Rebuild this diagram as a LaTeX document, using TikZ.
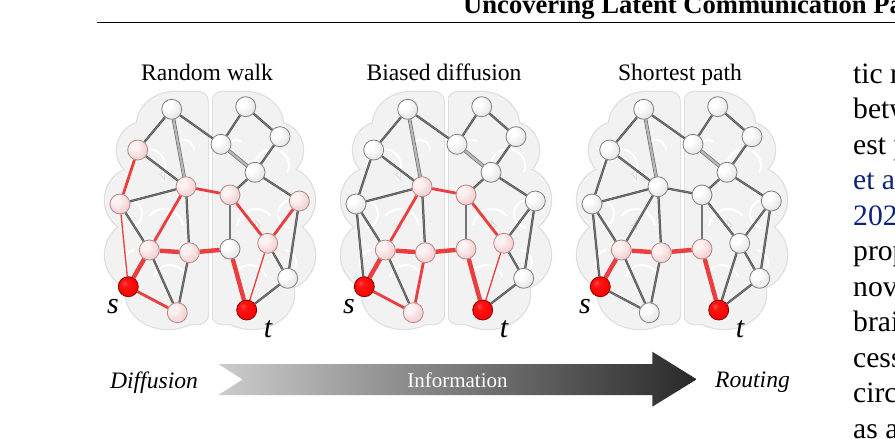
\documentclass[tikz,border=0pt]{standalone}
\usepackage{fontspec}
\setmainfont{Liberation Serif}
\usetikzlibrary{calc}
\definecolor{brainfill}{RGB}{242,242,242}
\definecolor{brainedge}{RGB}{222,222,222}
\definecolor{redE}{RGB}{236,62,62}
\definecolor{citeblue}{RGB}{12,35,120}
\definecolor{pinkhi}{RGB}{253,242,242}
\definecolor{pinkmid}{RGB}{242,206,206}
\definecolor{pinklo}{RGB}{212,160,160}
\pgfdeclareradialshading{wball}{\pgfpoint{-12bp}{12bp}}{color(0bp)=(white); color(10bp)=(white); color(32bp)=(black!10); color(48bp)=(black!35); color(70bp)=(black!48)}
\pgfdeclareradialshading{pball}{\pgfpoint{-12bp}{12bp}}{color(0bp)=(pinkhi); color(10bp)=(pinkhi); color(32bp)=(pinkmid); color(48bp)=(pinklo); color(70bp)=(pinklo)}
\pgfdeclareradialshading{rball}{\pgfpoint{-10bp}{10bp}}{color(0bp)=(red!70!white); color(8bp)=(red!92!white); color(28bp)=(red); color(50bp)=(red!85!black); color(70bp)=(red!80!black)}
\pgfdeclarelayer{bg}
\pgfdeclarelayer{edges}
\pgfsetlayers{bg,edges,main}
\tikzset{
  nd/.style={circle, minimum size=20pt, inner sep=0pt, line width=0.8pt},
  wn/.style={nd, shading=wball, draw=black!50},
  pn/.style={nd, shading=pball, draw=pinklo!85!black},
  rn/.style={nd, shading=rball, draw=red!50!black},
  ge/.style={draw=black!72, line width=0.5pt, double=black!55, double distance=1.2pt},
  gt/.style={draw=black!62, line width=0.6pt, double=black!28, double distance=2.3pt},
  rt/.style={draw=redE, line width=1.3pt},
  rm/.style={draw=redE, line width=2.8pt},
  rk/.style={draw=redE, line width=4.4pt},
  sulc/.style={draw=white, line width=2pt, line cap=round},
  txt/.style={inner sep=0pt, anchor=base},
  ttl/.style={txt, font=\fontsize{23.6}{28}\selectfont},
  lbl/.style={txt, font=\itshape\fontsize{30}{30}\selectfont},
  col/.style={inner sep=0pt, anchor=base west, font=\fontsize{29.6}{35.5}\selectfont},
}
\newcommand\hemipieces[1]{%
  \path[#1, rounded corners=10pt] (2,92) rectangle (45,324);
  \path[#1] (35,125) ellipse[x radius=38, y radius=33];
  \path[#1] (65,150) circle[radius=28];
  \path[#1] (72,200) circle[radius=33];
  \path[#1] (70,255) circle[radius=35];
  \path[#1] (42,294) ellipse[x radius=42, y radius=35];
}
\newcommand\hemi{%
  \begin{scope}
    \clip (2,80) rectangle (130,345);
    \hemipieces{draw=brainedge, line width=2.4pt}
    \hemipieces{fill=brainfill}
  \end{scope}
  \draw[brainedge, line width=0.9pt] (2,100) -- (2,318);
  \draw[sulc] (62,166) ++(160:17) arc[start angle=160, end angle=380, radius=17];
  \draw[sulc] (26,150) ++(180:10) arc[start angle=180, end angle=300, radius=10];
  \draw[sulc] (46,228) ++(190:19) arc[start angle=190, end angle=320, radius=19];
  \draw[sulc] (82,214) ++(100:14) arc[start angle=100, end angle=250, radius=14];
  \draw[sulc] (40,282) ++(200:17) arc[start angle=200, end angle=340, radius=17];
  \draw[sulc] (74,262) ++(40:12) arc[start angle=40, end angle=-80, radius=12];
}
\tikzset{brainbg/.pic={
  \begin{scope}\hemi\end{scope}
  \begin{scope}[xscale=-1]\hemi\end{scope}
}}
\newcommand\placenodes[3]{%
  \foreach \n/\x/\y/\s in {#3} \node[\s] (\n#1) at ({#2+\x},\y) {};
}
\newcommand\placeedges[2]{%
  \foreach \a/\b/\s in {#2} \draw[\s] (\a#1) -- (\b#1);
}
\begin{document}
\begin{tikzpicture}[x=1pt,y=-1pt]
\useasboundingbox (0,0) rectangle (895,439);
\clip (0,0) rectangle (895,439);
\begin{pgfonlayer}{bg}
  \fill[white] (0,0) rectangle (895,439);
  \pic at (210,0) {brainbg};
  \pic at (446,0) {brainbg};
  \pic at (682,0) {brainbg};
\end{pgfonlayer}

% header
\node[inner sep=0pt, anchor=base west, font=\bfseries\fontsize{26.6}{30}\selectfont] (hdr) at (463,13) {Uncovering Latent Communication Pa};
\draw[line width=1.6pt] (97,22.5) -- (895,22.5);

% titles
\node[ttl] (t1) at (207,80.5) {Random walk};
\node[ttl] (t2) at (444,80.5) {Biased diffusion};
\node[ttl] (t3) at (680,80.5) {Shortest path};

% brain 1
\placenodes{1}{210}{A/-38.3/109.3/wn, B/35.7/106.7/wn, C/11/144.3/wn, D/70/136.7/wn, E/45/172.3/wn, F/-72.3/150/pn, G/-24/186.7/pn, H/20/195/pn, I/89.3/201/pn, J/-90/204/pn, K/-60.7/250/pn, L/-20.7/252.7/pn, M/20/249/wn, N/57.7/243.3/pn, O/77.7/278.3/wn, S/-81.7/286.7/rn, P/-32.7/312.7/pn, T/36.7/310/rn}
% brain 2
\placenodes{2}{446}{A/-38.3/109.3/wn, B/35.7/106.7/wn, C/11/144.3/wn, D/70/136.7/wn, E/45/172.3/wn, F/-72.3/150/wn, G/-24/186.7/pn, H/20/195/pn, I/89.3/201/wn, J/-90/204/wn, K/-60.7/250/pn, L/-20.7/252.7/pn, M/20/249/pn, N/57.7/243.3/pn, O/77.7/278.3/wn, S/-81.7/286.7/rn, P/-32.7/312.7/pn, T/36.7/310/rn}
% brain 3
\placenodes{3}{682}{A/-38.3/109.3/wn, B/35.7/106.7/wn, C/11/144.3/wn, D/70/136.7/wn, E/45/172.3/wn, F/-72.3/150/wn, G/-24/186.7/wn, H/20/195/wn, I/89.3/201/wn, J/-90/204/wn, K/-60.7/250/pn, L/-20.7/252.7/pn, M/20/249/pn, N/57.7/243.3/wn, O/77.7/278.3/wn, S/-81.7/286.7/rn, P/-32.7/312.7/wn, T/36.7/310/rn}

\begin{pgfonlayer}{edges}
\placeedges{1}{A/C/ge, A/F/ge, A/G/gt, C/B/ge, B/D/ge, C/E/gt, D/E/ge, E/H/ge, E/I/ge, F/G/ge, F/J/rm, J/G/ge, J/K/ge, J/S/rt, G/H/rm, G/K/rm, G/L/ge, K/L/rk, L/M/rk, K/P/ge, L/P/ge, S/K/rk, S/P/rm, H/M/ge, H/N/rm, N/I/rm, I/O/ge, N/O/ge, M/T/rk, N/T/rt, T/O/ge}
\placeedges{2}{A/C/ge, A/F/ge, A/G/gt, C/B/ge, B/D/ge, C/E/gt, D/E/ge, E/H/ge, E/I/ge, F/G/ge, F/J/ge, J/G/ge, J/K/ge, J/S/ge, G/H/rm, G/K/rm, G/L/ge, K/L/rk, L/M/rk, K/P/ge, L/P/rm, S/K/rk, S/P/rm, H/M/ge, H/N/rm, N/I/ge, I/O/ge, N/O/ge, M/T/rk, N/T/rt, T/O/ge}
\placeedges{3}{A/C/ge, A/F/ge, A/G/gt, C/B/ge, B/D/ge, C/E/gt, D/E/ge, E/H/ge, E/I/ge, F/G/ge, F/J/ge, J/G/ge, J/K/ge, J/S/ge, G/H/ge, G/K/ge, G/L/ge, K/L/rk, L/M/rk, K/P/ge, L/P/ge, S/K/rk, S/P/ge, H/M/ge, H/N/ge, N/I/ge, I/O/ge, N/O/ge, M/T/rk, N/T/ge, T/O/ge}
\end{pgfonlayer}

% s / t labels
\foreach \k/\dx in {1/0, 2/236, 3/472}{
  \node[lbl] (s\k) at ({113+\dx},313) {s};
  \node[lbl] (t\k) at ({268+\dx},337) {t};
}

% gradient arrow
\shade[left color=black!20, right color=black!84]
  (218.3,364) -- (652.3,364) -- (652.3,351.7) -- (696.7,379.3) -- (652.3,406.7)
  -- (652.3,395) -- (218.3,395) -- (242.7,379.5) -- cycle;
\node[txt, white, font=\fontsize{21}{24}\selectfont] (info) at (457.5,387.5) {Information};
\node[txt, font=\itshape\fontsize{23.6}{28}\selectfont] (diff) at (154,388) {Diffusion};
\node[txt, font=\itshape\fontsize{23.6}{28}\selectfont] (rout) at (752.5,387) {Routing};

% right column (page text, cut at the edge)
\node[col] (c1) at (853,83) {tic r};
\node[col] (c2) at (853,118.5) {betw};
\node[col] (c3) at (853,154) {est p};
\node[col, citeblue] (c4) at (853,189.5) {et a};
\node[col, citeblue] (c5) at (853,225) {202};
\node[col] (c6) at (853,260.5) {prop};
\node[col] (c7) at (853,296) {nove};
\node[col] (c8) at (853,331.5) {brai};
\node[col] (c9) at (853,367) {cess};
\node[col] (c10) at (853,402.5) {circ};
\node[col] (c11) at (853,438) {as a};
\end{tikzpicture}
\end{document}
